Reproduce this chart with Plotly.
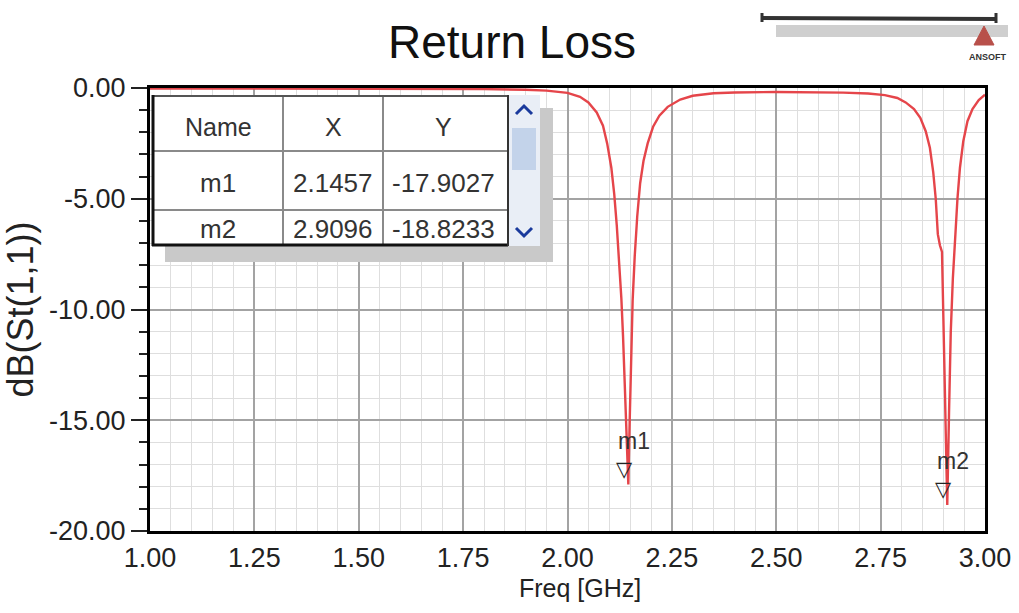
import plotly.graph_objects as go

# ---------------- data ----------------
freq_ghz = [1.00, 1.10, 1.20, 1.30, 1.40, 1.50, 1.60, 1.70, 1.80, 1.90, 1.95,
            2.00, 2.03, 2.05, 2.07, 2.085, 2.095, 2.105, 2.112, 2.118, 2.124,
            2.129, 2.133, 2.137, 2.141, 2.1457, 2.149, 2.152, 2.156, 2.161,
            2.167, 2.174, 2.182, 2.192, 2.205, 2.22, 2.24, 2.27, 2.30, 2.35,
            2.40, 2.50, 2.60, 2.66, 2.72, 2.76, 2.79, 2.81, 2.83, 2.845, 2.858,
            2.868, 2.876, 2.882, 2.887, 2.892, 2.897, 2.900, 2.904, 2.9096,
            2.914, 2.918, 2.923, 2.928, 2.934, 2.940, 2.948, 2.958, 2.970,
            2.985, 3.00]
s11_db = [-0.02, -0.02, -0.02, -0.02, -0.03, -0.03, -0.03, -0.04, -0.05, -0.08, -0.12,
          -0.22, -0.40, -0.65, -1.10, -1.70, -2.50, -3.60, -4.80, -6.20, -7.80,
          -9.50, -11.2, -13.2, -15.5, -17.9027, -15.0, -12.0, -9.6, -7.6,
          -5.8, -4.3, -3.3, -2.5, -1.75, -1.25, -0.85, -0.52, -0.35, -0.24,
          -0.20, -0.18, -0.19, -0.21, -0.25, -0.32, -0.45, -0.65, -0.95, -1.35, -1.95,
          -2.70, -3.80, -5.00, -6.60, -7.10, -7.40, -10.0, -13.0, -18.8233,
          -14.5, -11.0, -8.6, -6.8, -5.0, -3.6, -2.4, -1.5, -0.95,
          -0.55, -0.30]

marker_names = ["m1", "m2"]
marker_freq = [2.1457, 2.9096]
marker_db = [-17.9027, -18.8233]
marker_x_text = ["2.1457", "2.9096"]
marker_y_text = ["-17.9027", "-18.8233"]
table_header = ["Name", "X", "Y"]

x_tick_vals = [1.00, 1.25, 1.50, 1.75, 2.00, 2.25, 2.50, 2.75, 3.00]
x_tick_labels = ["1.00", "1.25", "1.50", "1.75", "2.00", "2.25", "2.50", "2.75", "3.00"]
y_tick_vals = [0, -5, -10, -15, -20]
y_tick_labels = ["0.00", "-5.00", "-10.00", "-15.00", "-20.00"]

title_text = "Return Loss"
x_title = "Freq [GHz]"
y_title = "dB(St(1,1))"

# ---------------- geometry helpers ----------------
W, H = 1019, 613
L, R, T, B = 150, 985, 88, 531


def px(x):
    return (x - L) / (R - L)


def py(y):
    return (B - y) / (B - T)


FONT = "Liberation Sans, Arial, sans-serif"

fig = go.Figure()
fig.add_trace(go.Scatter(x=freq_ghz, y=s11_db, mode="lines",
                         line=dict(color="#e5454a", width=2.4),
                         hoverinfo="skip", showlegend=False))

shapes = []
annotations = []


def text(xp, yp, txt, size, color="#333", family=FONT, **kw):
    annotations.append(dict(x=px(xp), y=py(yp), xref="paper", yref="paper", text=txt,
                            showarrow=False, xanchor="center", yanchor="middle",
                            font=dict(family=family, size=size, color=color), **kw))


# marker symbols and labels
for name, fx, fy in zip(marker_names, marker_freq, marker_db):
    annotations.append(dict(x=fx, y=fy, xref="x", yref="y", text="▽", showarrow=False,
                            xanchor="center", yanchor="middle", xshift=-4, yshift=16,
                            font=dict(family="DejaVu Sans", size=21, color="#222")))
    annotations.append(dict(x=fx, y=fy, xref="x", yref="y", text=name, showarrow=False,
                            xanchor="center", yanchor="middle", xshift=6, yshift=44,
                            font=dict(family=FONT, size=23, color="#333")))


def rect(x0, y0, x1, y1, fill):
    shapes.append(dict(type="rect", xref="paper", yref="paper",
                       x0=px(x0), x1=px(x1), y0=py(y1), y1=py(y0),
                       fillcolor=fill, line=dict(color=fill, width=0), layer="above"))


def line(x0, y0, x1, y1, color, lw):
    shapes.append(dict(type="line", xref="paper", yref="paper",
                       x0=px(x0), x1=px(x1), y0=py(y0), y1=py(y1),
                       line=dict(color=color, width=lw), layer="above"))


# marker table (shadow, box, scrollbar)
rect(165, 108, 553, 262, "#c9c9c9")
rect(152, 95, 540, 246, "#ffffff")
rect(508, 95, 540, 246, "#e9eef6")
rect(512, 128, 536, 170, "#c3d3ea")
line(152, 151, 508, 151, "#8a8a8a", 2)
line(152, 210, 508, 210, "#8a8a8a", 2)
line(283, 95, 283, 246, "#8a8a8a", 2)
line(383, 95, 383, 246, "#8a8a8a", 2)
line(152, 96, 508, 96, "#555", 2)
line(153, 95, 153, 246, "#111", 3)
line(152, 245, 508, 245, "#111", 3)
line(508, 95, 508, 246, "#333", 2)
shapes.append(dict(type="path", xref="paper", yref="paper",
                   path=f"M {px(516)},{py(114)} L {px(524)},{py(106)} L {px(532)},{py(114)}",
                   line=dict(color="#1a3a9c", width=3), layer="above"))
shapes.append(dict(type="path", xref="paper", yref="paper",
                   path=f"M {px(516)},{py(228)} L {px(524)},{py(236)} L {px(532)},{py(228)}",
                   line=dict(color="#1a3a9c", width=3), layer="above"))

col_x = [218, 333, 443]
row_y = [127, 183, 229]
for cx, txt in zip(col_x, table_header):
    text(cx, row_y[0], txt, 25)
for i in range(len(marker_names)):
    for cx, txt in zip(col_x, [marker_names[i], marker_x_text[i], marker_y_text[i]]):
        text(cx, row_y[i + 1], txt, 26)

# title
text(512, 42, title_text, 46, color="#111")

# x axis title (placed like the reference, slightly right of centre)
text(580, 588, x_title, 25, color="#222")

# ANSOFT logo
line(762, 18, 996, 19, "#333", 4)
line(762, 13, 762, 22, "#333", 3)
line(996, 13, 996, 23, "#333", 3)
rect(776, 25, 1008, 37, "#cfcfcf")
shapes.append(dict(type="path", xref="paper", yref="paper",
                   path=f"M {px(974)},{py(45)} L {px(984)},{py(26)} L {px(994)},{py(45)} Z",
                   fillcolor="#b8504a", line=dict(color="#b8504a", width=1), layer="above"))
text(988, 57, "<b>ANSOFT</b>", 9, color="#333")

axis_common = dict(showline=True, linecolor="#000", linewidth=3, mirror=True,
                   zeroline=False, layer="below traces",
                   showgrid=True, gridcolor="#a3a3a3", gridwidth=2)

fig.update_layout(
    width=W, height=H,
    margin=dict(l=L, r=W - R, t=T, b=H - B, autoexpand=False),
    paper_bgcolor="#ffffff", plot_bgcolor="#ffffff",
    showlegend=False,
    shapes=shapes, annotations=annotations,
    xaxis=dict(range=[1, 3], tickmode="array", tickvals=x_tick_vals, ticktext=x_tick_labels,
               ticks="", ticklabelstandoff=1, automargin=False,
               tickfont=dict(family=FONT, size=27, color="#222"),
               minor=dict(tickmode="linear", tick0=1, dtick=0.05, showgrid=True,
                          gridcolor="#dedede", gridwidth=1, ticks=""),
               **axis_common),
    yaxis=dict(range=[-20, 0], tickmode="array", tickvals=y_tick_vals, ticktext=y_tick_labels,
               ticks="outside", ticklen=16, tickwidth=2, tickcolor="#222", automargin=False,
               tickfont=dict(family=FONT, size=27, color="#222"),
               minor=dict(tickmode="linear", tick0=0, dtick=1, showgrid=True,
                          gridcolor="#dedede", gridwidth=1, ticks="outside", ticklen=8,
                          tickwidth=2, tickcolor="#222"),
               title=dict(text=y_title, standoff=8,
                          font=dict(family=FONT, size=36, color="#222")),
               **axis_common),
)

fig.write_html("out.html")
